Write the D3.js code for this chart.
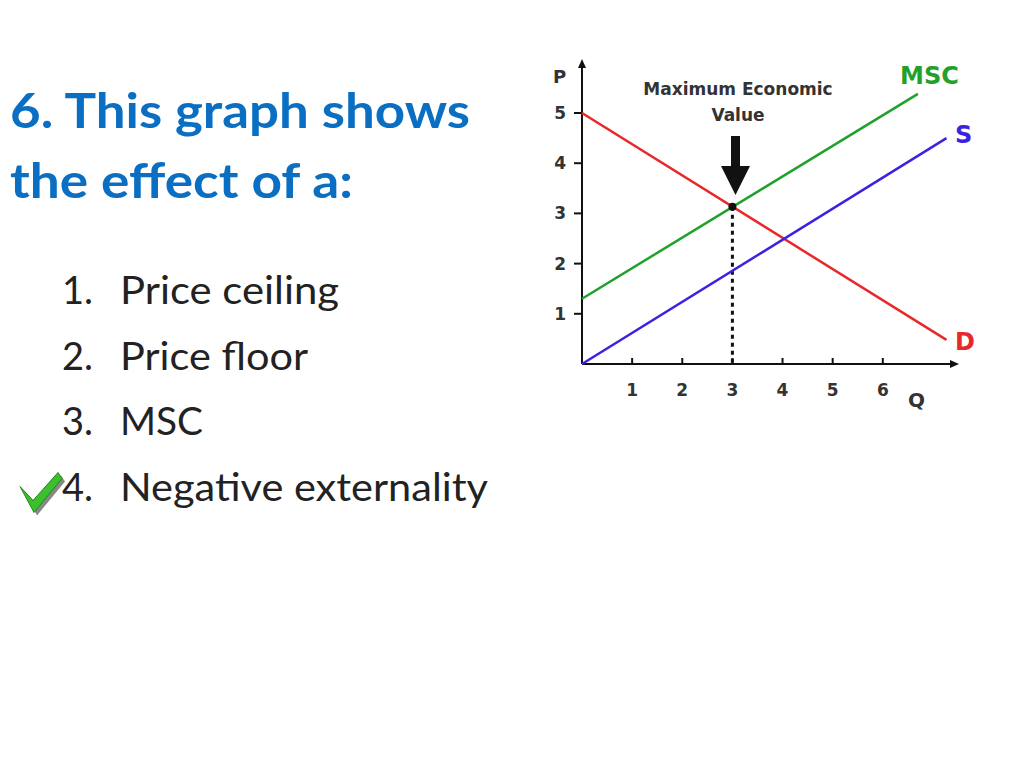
<!DOCTYPE html>
<html><head><meta charset="utf-8">
<script src="https://cdn.jsdelivr.net/npm/d3@7"></script>
<style>body{margin:0;background:#fff}svg{display:block}</style>
</head><body><div id="chart"></div>
<script>
// slide text
const titleLines = ["6. This graph shows", "the effect of a:"];
const titleWidths = [460, 343];
const answers = ["Price ceiling", "Price floor", "MSC", "Negative externality"];
const answerWidths = [219, 188, 83, 368];
const correctIndex = 3;

// curves: [Q, P] endpoints
const demand = [[0, 5], [7.27, 0.48]];
const msc = [[0, 1.3], [6.7, 5.38]];
const supply = [[0, 0], [7.27, 4.5]];
const xTicks = [1, 2, 3, 4, 5, 6];
const yTicks = [1, 2, 3, 4, 5];
const equilibrium = [3, 3.13];

const svg = d3.select("#chart").append("svg")
    .attr("width", 1024).attr("height", 768);

const font = "Lato, 'Open Sans', sans-serif";

// title
svg.append("g").selectAll("text").data(titleLines).join("text")
    .attr("x", 10).attr("y", (d, i) => 128 + i * 70)
    .attr("font-family", font).attr("font-weight", "bold")
    .attr("font-size", 48).attr("fill", "#0a6fc2")
    .attr("textLength", (d, i) => titleWidths[i]).attr("lengthAdjust", "spacingAndGlyphs")
    .text(d => d);

// answer list
const list = svg.append("g");
answers.forEach(function (a, i) {
    const y = 304 + i * 65.5;
    list.append("text").attr("x", 62).attr("y", y)
        .attr("font-family", font).attr("font-size", 38).attr("fill", "#222")
        .text((i + 1) + ".");
    list.append("text").attr("x", 120).attr("y", y)
        .attr("font-family", font).attr("font-size", 38).attr("fill", "#222")
        .attr("textLength", answerWidths[i]).attr("lengthAdjust", "spacingAndGlyphs")
        .text(a);
});

// check mark
const cy = 304 + correctIndex * 65.5;
const check = "M20," + (cy - 14) + " L33," + (cy) + " L58," + (cy - 28) + " L62," + (cy - 22) + " L34," + (cy + 12) + " Z";
svg.append("path").attr("d", check).attr("fill", "#888").attr("transform", "translate(3,3)");
svg.append("path").attr("d", check).attr("fill", "#3cbf2c").attr("stroke", "#1e8a17").attr("stroke-width", 1);

// chart
const x = d3.scaleLinear().domain([0, 7.5]).range([582, 958]);
const y = d3.scaleLinear().domain([0, 5]).range([364, 113]);
const g = svg.append("g");
const cf = "'DejaVu Sans', sans-serif";

// axes
g.append("line").attr("x1", x(0)).attr("x2", 952).attr("y1", y(0)).attr("y2", y(0)).attr("stroke", "#111").attr("stroke-width", 2);
g.append("line").attr("x1", x(0)).attr("x2", x(0)).attr("y1", y(0)).attr("y2", 66).attr("stroke", "#111").attr("stroke-width", 2);
g.append("path").attr("d", `M${x(0)},59 l-4,9 l8,0 Z`).attr("fill", "#111");
g.append("path").attr("d", `M959,${y(0)} l-9,-4 l0,8 Z`).attr("fill", "#111");

g.selectAll(".xt").data(xTicks).join("line")
    .attr("x1", d => x(d)).attr("x2", d => x(d)).attr("y1", y(0)).attr("y2", y(0) - 6)
    .attr("stroke", "#111").attr("stroke-width", 2);
g.selectAll(".xl").data(xTicks).join("text")
    .attr("x", d => x(d)).attr("y", 396).attr("text-anchor", "middle")
    .attr("font-family", cf).attr("font-weight", "bold").attr("font-size", 17).attr("fill", "#333").text(d => d);
g.selectAll(".yt").data(yTicks).join("line")
    .attr("x1", x(0)).attr("x2", x(0) - 8).attr("y1", d => y(d)).attr("y2", d => y(d))
    .attr("stroke", "#111").attr("stroke-width", 2);
g.selectAll(".yl").data(yTicks).join("text")
    .attr("x", 566).attr("y", d => y(d) + 6).attr("text-anchor", "end")
    .attr("font-family", cf).attr("font-weight", "bold").attr("font-size", 17).attr("fill", "#333").text(d => d);
g.append("text").attr("x", 553).attr("y", 83).attr("font-family", cf).attr("font-weight", "bold").attr("font-size", 18).attr("fill", "#333").text("P");
g.append("text").attr("x", 908).attr("y", 407).attr("font-family", cf).attr("font-weight", "bold").attr("font-size", 20).attr("fill", "#333").text("Q");

// dotted line
g.append("line").attr("x1", x(equilibrium[0])).attr("x2", x(equilibrium[0]))
    .attr("y1", y(equilibrium[1])).attr("y2", y(0))
    .attr("stroke", "#111").attr("stroke-width", 3).attr("stroke-dasharray", "4,4");

const line = d3.line().x(d => x(d[0])).y(d => y(d[1]));
[[demand, "#e8282a"], [msc, "#1fa12a"], [supply, "#3a23e0"]].forEach(function (c) {
    g.append("path").attr("d", line(c[0])).attr("fill", "none").attr("stroke", c[1]).attr("stroke-width", 2.5);
});
g.append("circle").attr("cx", x(equilibrium[0])).attr("cy", y(equilibrium[1])).attr("r", 4).attr("fill", "#111");

// labels
g.append("text").attr("x", 900).attr("y", 84).attr("font-family", cf).attr("font-weight", "bold").attr("font-size", 24).attr("fill", "#1fa12a").text("MSC");
g.append("text").attr("x", 955).attr("y", 143).attr("font-family", cf).attr("font-weight", "bold").attr("font-size", 24).attr("fill", "#3a23e0").text("S");
g.append("text").attr("x", 955).attr("y", 350).attr("font-family", cf).attr("font-weight", "bold").attr("font-size", 24).attr("fill", "#e8282a").text("D");

g.append("text").attr("x", 738).attr("y", 95).attr("text-anchor", "middle").attr("font-family", cf).attr("font-weight", "bold").attr("font-size", 17).attr("fill", "#333").text("Maximum Economic");
g.append("text").attr("x", 738).attr("y", 121).attr("text-anchor", "middle").attr("font-family", cf).attr("font-weight", "bold").attr("font-size", 17).attr("fill", "#333").text("Value");

// arrow
g.append("path").attr("d", "M731,136 L740,136 L740,166 L750,166 L735.5,195 L721,166 L731,166 Z").attr("fill", "#111");
</script></body></html>
